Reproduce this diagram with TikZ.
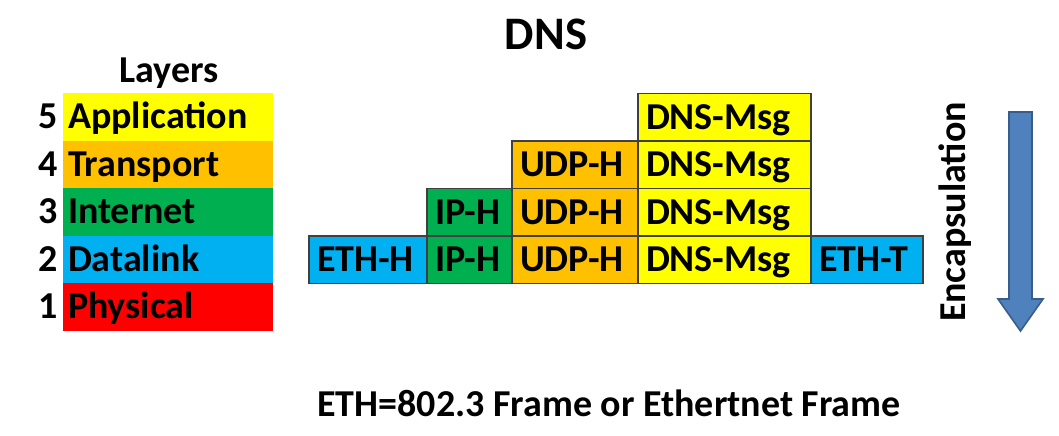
\documentclass[tikz,border=0pt]{standalone}
\usepackage{fontspec}
\setmainfont{Carlito}
\usetikzlibrary{positioning,chains}
\definecolor{appyellow}{HTML}{FFFF00}
\definecolor{transorange}{HTML}{FFC000}
\definecolor{netgreen}{HTML}{00B050}
\definecolor{linkblue}{HTML}{00B0F0}
\definecolor{physred}{HTML}{FF0000}
\definecolor{boxline}{HTML}{404040}
\definecolor{arrowfill}{HTML}{4F81BD}
\definecolor{arrowline}{HTML}{385D8A}
\tikzstyle{lbl}=[font=\fontsize{19pt}{22pt}\selectfont\bfseries,inner sep=0pt,text height=12pt,text depth=0pt]
\tikzstyle{layerbox}=[lbl,text width=100pt,align=left,inner xsep=2.5pt,minimum height=23.75pt,outer sep=0pt]
\tikzstyle{pktbox}=[lbl,draw=boxline,line width=0.6pt,align=left,inner xsep=4pt,minimum height=23.75pt,outer sep=0pt]

\begin{document}
\begin{tikzpicture}[x=0.5pt,y=-0.5pt]
	\useasboundingbox (0,0) rectangle (1059,435);
	
	\node[lbl,font=\fontsize{23.3pt}{27pt}\selectfont\bfseries,text height=15pt] (title) at (546,34.5) {DNS};
	\node[lbl] (layers) at (169,70) {Layers};
	
	% layer stack
	\begin{scope}[start chain=lay going below, node distance=0pt]
	\node [on chain=lay,layerbox,fill=appyellow,anchor=north west] (app) at (63,93) {Application};
	\node [on chain=lay,layerbox,fill=transorange] (trans) {Transport};
	\node [on chain=lay,layerbox,fill=netgreen] (inet) {Internet};
	\node [on chain=lay,layerbox,fill=linkblue] (dlink) {Datalink};
	\node [on chain=lay,layerbox,fill=physred] (phys) {Physical};
	\end{scope}
	
	\node[lbl,left=2.5pt of app] (n5) {5};
	\node[lbl,left=2.5pt of trans] (n4) {4};
	\node[lbl,left=2.5pt of inet] (n3) {3};
	\node[lbl,left=2.5pt of dlink] (n2) {2};
	\node[lbl,left=2.5pt of phys] (n1) {1};
	
	% frame on the datalink row
	\begin{scope}[start chain=pkt going right, node distance=0pt]
	\node [on chain=pkt,pktbox,fill=linkblue,text width=51pt,anchor=north west] (eth2) at (309,236) {ETH-H};
	\node [on chain=pkt,pktbox,fill=netgreen,text width=34.5pt] (ip2) {IP-H};
	\node [on chain=pkt,pktbox,fill=transorange,text width=55pt] (udp2) {UDP-H};
	\node [on chain=pkt,pktbox,fill=appyellow,text width=78.5pt] (dns2) {DNS-Msg};
	\node [on chain=pkt,pktbox,fill=linkblue,text width=48pt] (etht) {ETH-T};
	\end{scope}
	
	\node[pktbox,fill=netgreen,text width=34.5pt,above=0pt of ip2] (ip3) {IP-H};
	\node[pktbox,fill=transorange,text width=55pt,above=0pt of udp2] (udp3) {UDP-H};
	\node[pktbox,fill=transorange,text width=55pt,above=0pt of udp3] (udp4) {UDP-H};
	\node[pktbox,fill=appyellow,text width=78.5pt,above=0pt of dns2] (dns3) {DNS-Msg};
	\node[pktbox,fill=appyellow,text width=78.5pt,above=0pt of dns3] (dns4) {DNS-Msg};
	\node[pktbox,fill=appyellow,text width=78.5pt,above=0pt of dns4] (dns5) {DNS-Msg};
	
	% encapsulation arrow
	\node[lbl,rotate=90] (encap) at (953,212) {Encapsulation};
	\draw[arrowline,fill=arrowfill,line width=0.8pt] (1009,112) -- (1032,112) -- (1032,299) -- (1043,299) -- (1020.5,331) -- (998,299) -- (1009,299) -- cycle;
	
	\node[lbl] (note) at (609,404) {ETH=802.3 Frame or Ethertnet Frame};
\end{tikzpicture}
\end{document}
